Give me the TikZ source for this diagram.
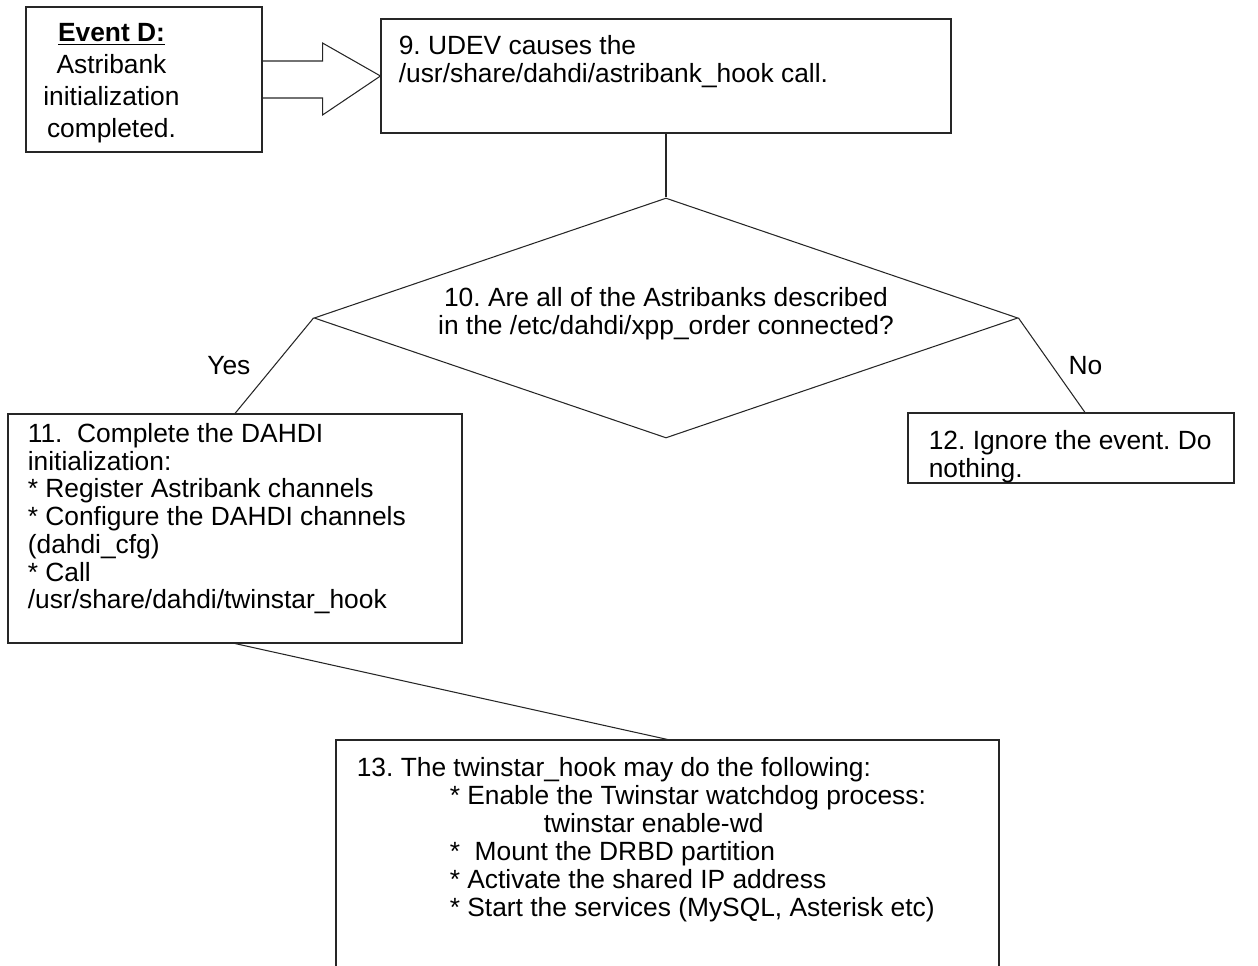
\documentclass[tikz,border=0pt]{standalone}
\usepackage{fontspec}
\setmainfont{Liberation Sans}
\usepackage{tikz}
\usetikzlibrary{positioning,calc,shapes.geometric,fit}
\definecolor{FlowLine}{HTML}{262626}
\newcommand{\flowfont}{\fontsize{15}{15.8}\selectfont}
\frenchspacing

\begin{document}
\begin{tikzpicture}[x=0.02cm, y=-0.02cm,
  box/.style={draw=FlowLine, line width=0.6pt, inner sep=0pt},
  txt/.style={anchor=north west, inner sep=0pt, align=left, font=\flowfont},
  link/.style={draw=FlowLine, line width=0.6pt}]
  \useasboundingbox (0,0) rectangle (1258,966);
  \path[clip] (0,0) rectangle (1258,966);

  % boxes (pixel grid, y downwards)
  \node[box, fit={(26,7) (262,152)}] (eventD) {};
  \node[box, fit={(381,19) (951,133)}] (udev) {};
  \node[box, diamond, minimum width=14.08cm, minimum height=4.8cm] (ask)
    at (666,318) {};
  \node[box, fit={(8,414) (462,643)}] (complete) {};
  \node[box, fit={(908,413) (1234,483)}] (ignore) {};
  \node[box, fit={(336,740) (999,1000)}] (twin) {};

  % texts
  \node[anchor=north, inner sep=0pt, align=center,
    font=\fontsize{15}{18.2}\selectfont] (eventDtext)
    at ($(eventD.north west)+(86,16.5)$)
    {\textbf{\underline{Event D:}}\\ Astribank\\ initialization\\ completed.};
  \node[txt] (udevtext) at ($(udev.north west)+(18,16.5)$)
    {9. UDEV causes the\\ /usr/share/dahdi/astribank\_hook call.};
  \node[inner sep=0pt, align=center, font=\flowfont] (asktext)
    at ($(ask.center)+(0,-4)$)
    {10. Are all of the Astribanks described\\
     in the /etc/dahdi/xpp\_order connected?};
  \node[txt] (completetext) at ($(complete.north west)+(20,9.5)$)
    {11.~ Complete the DAHDI\\ initialization:\\
     * Register Astribank channels\\ * Configure the DAHDI channels\\
     (dahdi\_cfg)\\ * Call\\ /usr/share/dahdi/twinstar\_hook};
  \node[txt] (ignoretext) at ($(ignore.north west)+(21,17.5)$)
    {12. Ignore the event. Do\\ nothing.};
  \node[txt, font=\fontsize{15}{15.9}\selectfont] (twintext)
    at ($(twin.north west)+(21,17.5)$)
    {13. The twinstar\_hook may do the following:\\
     \hspace*{1.86cm}* Enable the Twinstar watchdog process:\\
     \hspace*{3.74cm}twinstar enable-wd\\
     \hspace*{1.86cm}*~ Mount the DRBD partition\\
     \hspace*{1.86cm}* Activate the shared IP address\\
     \hspace*{1.86cm}* Start the services (MySQL, Asterisk etc)};

  % block arrow from event D
  \draw[link] ($(eventD.east)+(0,-18.5)$) -- ++(60,0) -- ++(0,-18)
    -- (udev.west) -- ($(eventD.east)+(60,35.5)$) -- ++(0,-17) -- ++(-60,0);

  % connectors
  \draw[link] (udev.south) -- (ask.north);
  \draw[link] (ask.west) -- (complete.north)
    node[midway, left=10pt, font=\flowfont] (yes) {Yes};
  \draw[link] (ask.east) -- ([xshift=0.28cm]ignore.north)
    node[midway, right=6pt, font=\flowfont] (no) {No};
  \draw[link] (complete.south) -- (twin.north);
\end{tikzpicture}
\end{document}
